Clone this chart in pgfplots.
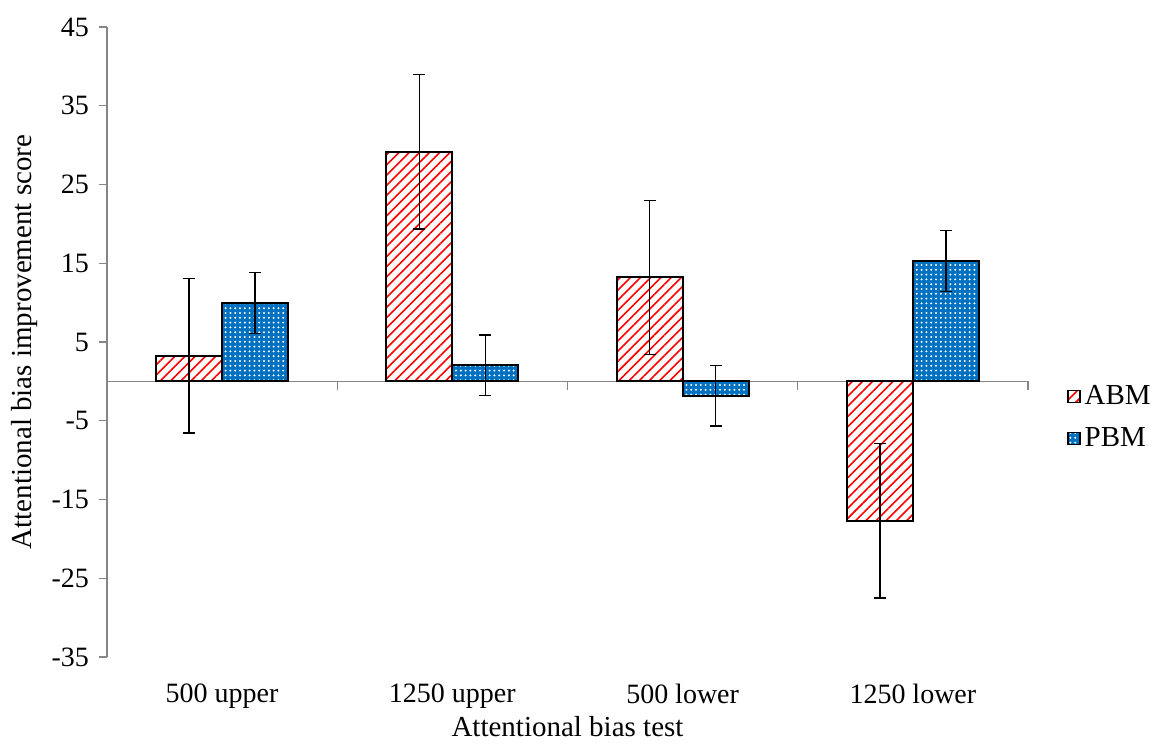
\documentclass[border=0pt]{standalone}
\usepackage{fontspec}
\setmainfont{Liberation Serif}
\usepackage{pgfplots}
\pgfplotsset{compat=1.18}
\usetikzlibrary{patterns.meta}
\definecolor{pbmblue}{RGB}{0,112,192}
\definecolor{abmred}{RGB}{255,0,0}
\definecolor{axgray}{RGB}{134,134,134}
\begin{document}
\begin{tikzpicture}
\useasboundingbox (-53.5pt,-44pt) rectangle (522.5pt,328.5pt);
\begin{axis}[
  at={(0,0)}, anchor=south west,
  scale only axis, width=460.5pt, height=315pt,
  xmin=0.5, xmax=4.5, ymin=-35, ymax=45,
  axis y line*=left, axis x line*=bottom,
  x axis line style={draw=none},
  y axis line style={draw=axgray, line width=0.7pt, -},
  ytick={-35,-25,...,45},
  xtick={1,2,3,4},
  xticklabels={500 upper,1250 upper,500 lower,1250 lower},
  x tick style={draw=none},
  y tick style={draw=axgray, line width=0.7pt},
  tick align=outside, major tick length=4pt,
  /pgf/number format/assume math mode=true,
  ticklabel style={font=\fontsize{14}{16}\selectfont},
  yticklabel style={xshift=-1.5pt},
  xticklabel style={yshift=-6pt},
  xlabel={Attentional bias test},
  ylabel={Attentional bias improvement score},
  label style={font=\fontsize{14.5}{17}\selectfont},
  xlabel style={at={(axis description cs:0.5,0)}, anchor=center, yshift=-35pt},
  ylabel style={at={(axis description cs:0,0.5)}, anchor=center, yshift=41pt},
  ybar=0pt, bar width=0.2866,
  legend style={at={(axis description cs:1.042,0.38)}, anchor=west, draw=none, fill=none,
    font=\fontsize{14.5}{17}\selectfont, row sep=6pt, inner sep=0pt, cells={anchor=west}},
  legend image code/.code={\draw[#1,draw=black,line width=0.8pt] (0pt,-3pt) rectangle (6pt,3pt);},
  clip=false,
]
\draw[axgray, line width=0.7pt] (axis cs:0.5,0) -- (axis cs:4.5,0);
\draw[axgray, line width=0.7pt] (axis cs:1.5,0) -- ([yshift=-4.5pt]axis cs:1.5,0);
\draw[axgray, line width=0.7pt] (axis cs:2.5,0) -- ([yshift=-4.5pt]axis cs:2.5,0);
\draw[axgray, line width=0.7pt] (axis cs:3.5,0) -- ([yshift=-4.5pt]axis cs:3.5,0);
\draw[axgray, line width=0.7pt] (axis cs:4.5,0) -- ([yshift=-4.5pt]axis cs:4.5,0);
\addplot[draw=black, line width=1pt, fill=white,
  postaction={pattern={Lines[angle=45,distance=3.6pt,line width=0.8pt]}, pattern color=abmred},
  error bars/.cd, y dir=both, y explicit,
  error bar style={black, line width=0.7pt},
  error mark options={rotate=90, mark size=3pt, black, line width=0.7pt}]
  coordinates {
  (1,3.25) +- (0,9.8)
  (2,29.15) +- (0,9.8)
  (3,13.2) +- (0,9.8)
  (4,-17.7) +- (0,9.8)
};
\addlegendentry{ABM}
\addplot[draw=black, line width=1pt, fill=pbmblue,
  postaction={pattern={Dots[distance=2.4pt,radius=0.55pt]}, pattern color=white},
  error bars/.cd, y dir=both, y explicit,
  error bar style={black, line width=0.7pt},
  error mark options={rotate=90, mark size=3pt, black, line width=0.7pt}]
  coordinates {
  (1,9.95) +- (0,3.85)
  (2,2.05) +- (0,3.85)
  (3,-1.8) +- (0,3.85)
  (4,15.3) +- (0,3.85)
};
\addlegendentry{PBM}
\end{axis}
\end{tikzpicture}
\end{document}
